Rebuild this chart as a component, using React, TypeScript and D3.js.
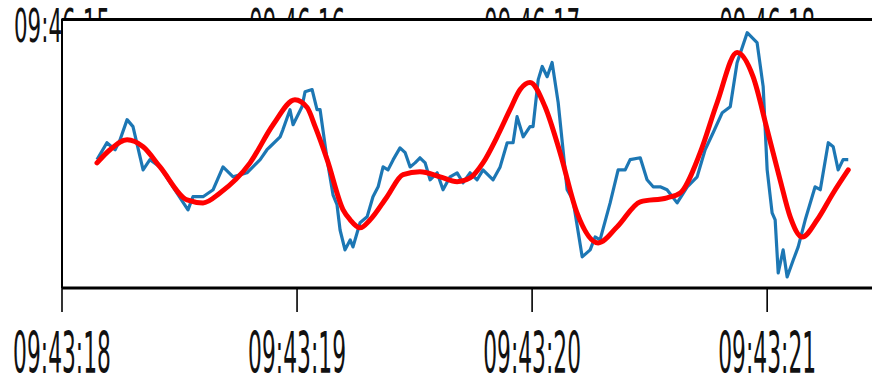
import React from 'react';
import * as d3 from 'd3';

// seconds after 09:43:18
const rawTime = [0.149, 0.191, 0.226, 0.247, 0.277, 0.302, 0.345, 0.374, 0.417, 0.472, 0.536, 0.557, 0.6, 0.643, 0.685, 0.728, 0.787, 0.843, 0.872, 0.885, 0.928, 0.94, 0.97, 0.983, 1.021, 1.034, 1.064, 1.085, 1.098, 1.128, 1.153, 1.17, 1.183, 1.204, 1.226, 1.238, 1.268, 1.298, 1.323, 1.345, 1.366, 1.387, 1.409, 1.438, 1.46, 1.481, 1.502, 1.523, 1.545, 1.566, 1.596, 1.621, 1.651, 1.681, 1.706, 1.736, 1.766, 1.791, 1.834, 1.864, 1.894, 1.919, 1.936, 1.962, 1.991, 2.004, 2.026, 2.043, 2.064, 2.085, 2.111, 2.149, 2.174, 2.213, 2.247, 2.268, 2.289, 2.332, 2.366, 2.396, 2.417, 2.46, 2.489, 2.515, 2.545, 2.574, 2.617, 2.66, 2.702, 2.736, 2.77, 2.809, 2.843, 2.872, 2.915, 2.957, 2.983, 3.0, 3.021, 3.034, 3.047, 3.068, 3.085, 3.111, 3.132, 3.162, 3.204, 3.226, 3.26, 3.281, 3.302, 3.323, 3.345];
const rawValue = [47.8, 54.1, 51.5, 55.2, 62.7, 60.1, 44.0, 47.8, 45.1, 37.7, 29.1, 34.0, 34.0, 36.6, 45.1, 41.4, 42.9, 47.8, 51.5, 52.6, 56.3, 59.0, 66.4, 60.8, 67.5, 73.1, 73.9, 66.4, 66.4, 47.8, 34.7, 31.0, 21.6, 14.2, 17.9, 15.3, 24.3, 26.5, 34.0, 37.7, 45.1, 44.0, 47.8, 52.2, 50.4, 45.1, 46.6, 48.5, 46.6, 40.3, 42.9, 36.6, 41.4, 42.9, 39.2, 42.9, 40.3, 44.0, 40.3, 45.1, 54.1, 54.1, 63.8, 56.3, 60.1, 60.1, 77.6, 82.5, 78.7, 84.0, 69.0, 36.6, 32.8, 11.6, 14.2, 19.0, 17.9, 31.7, 44.0, 44.0, 47.8, 48.5, 40.3, 37.7, 37.7, 36.6, 31.7, 37.7, 41.4, 51.5, 57.8, 65.3, 67.5, 83.9, 95.1, 91.4, 75.0, 44.0, 28.0, 25.4, 5.6, 14.2, 4.1, 10.4, 15.3, 25.4, 37.7, 36.6, 54.1, 52.6, 44.0, 47.8, 47.8];

const smoothTime = [0.149, 0.204, 0.277, 0.345, 0.417, 0.532, 0.6, 0.672, 0.8, 0.898, 0.991, 1.043, 1.077, 1.128, 1.196, 1.226, 1.268, 1.311, 1.383, 1.451, 1.523, 1.609, 1.681, 1.736, 1.791, 1.851, 1.906, 1.949, 1.991, 2.055, 2.119, 2.191, 2.281, 2.362, 2.46, 2.574, 2.63, 2.715, 2.787, 2.872, 2.94, 3.0, 3.055, 3.098, 3.149, 3.213, 3.281, 3.345];
const smoothValue = [46.6, 51.5, 55.2, 52.6, 45.1, 32.8, 31.7, 35.4, 46.6, 60.8, 70.1, 67.2, 60.1, 47.8, 29.1, 25.4, 22.4, 25.4, 34.0, 42.2, 43.3, 41.4, 39.6, 41.0, 46.6, 56.3, 66.4, 73.9, 76.5, 67.5, 50.4, 28.0, 16.8, 22.8, 32.1, 33.6, 35.4, 50.4, 69.0, 87.7, 78.7, 59.0, 40.3, 26.5, 19.0, 25.4, 35.4, 44.0];

const bottomTicks = ['09:43:18', '09:43:19', '09:43:20', '09:43:21'];
const topTicks = ['09:46:15', '09:46:16', '09:46:17', '09:46:18'];

const W = 872;
const H = 383;
const left = 62;
const top = 19.5;
const bottom = 288;

const base = new Date(2020, 0, 1, 9, 43, 18);
const at = (s: number) => new Date(base.getTime() + s * 1000);

export default function App() {
  const x = d3.scaleTime().domain([base, at(810 / 235)]).range([left, W]);
  const y = d3.scaleLinear().domain([0, 100]).range([bottom, top]);

  const raw = rawTime.map((t, i) => [at(t), rawValue[i]] as [Date, number]);
  const smooth = smoothTime.map((t, i) => [at(t), smoothValue[i]] as [Date, number]);

  const rawLine = d3.line<[Date, number]>().x((d) => x(d[0])).y((d) => y(d[1]));
  const smoothLine = d3
    .line<[Date, number]>()
    .x((d) => x(d[0]))
    .y((d) => y(d[1]))
    .curve(d3.curveMonotoneX);

  const ticks = bottomTicks.map((_, i) => at(i));

  return (
    <svg width={W} height={H} style={{ position: 'absolute', left: 0, top: 0, background: '#fff' }}>
      <defs>
        <filter id="soft" x="-5%" y="-5%" width="110%" height="110%">
          <feGaussianBlur stdDeviation="0.6" />
        </filter>
      </defs>
      {/* top labels, mostly hidden behind the plot area */}
      {topTicks.map((t, i) => (
        <text
          key={t}
          transform={`translate(${x(ticks[i])},42) scale(1,2.12)`}
          textAnchor="middle"
          fontFamily="DejaVu Sans"
          fontSize={21.4}
          fill="#111"
        >
          {t}
        </text>
      ))}
      <rect x={left} y={top} width={W - left} height={bottom - top} fill="#fff" />

      <g filter="url(#soft)">
        <path d={rawLine(raw) || ''} fill="none" stroke="#1f77b4" strokeWidth={3.2} strokeLinejoin="round" />
        <path d={smoothLine(smooth) || ''} fill="none" stroke="#ff0000" strokeWidth={5} strokeLinecap="round" />
      </g>

      <line x1={left} x2={W} y1={top} y2={top} stroke="#000" strokeWidth={3} />
      <line x1={left} x2={W} y1={bottom} y2={bottom} stroke="#000" strokeWidth={3} />
      <line x1={left} x2={left} y1={top - 1} y2={bottom} stroke="#000" strokeWidth={2} />

      {ticks.map((d, i) => (
        <g key={bottomTicks[i]} transform={`translate(${x(d)},0)`}>
          <line y1={bottom} y2={312} stroke="#000" strokeWidth={1.6} />
          <text
            transform="translate(0,373) scale(1,2.58)"
            textAnchor="middle"
            fontFamily="DejaVu Sans"
            fontSize={21.8}
            fill="#111"
          >
            {bottomTicks[i]}
          </text>
        </g>
      ))}
    </svg>
  );
}
